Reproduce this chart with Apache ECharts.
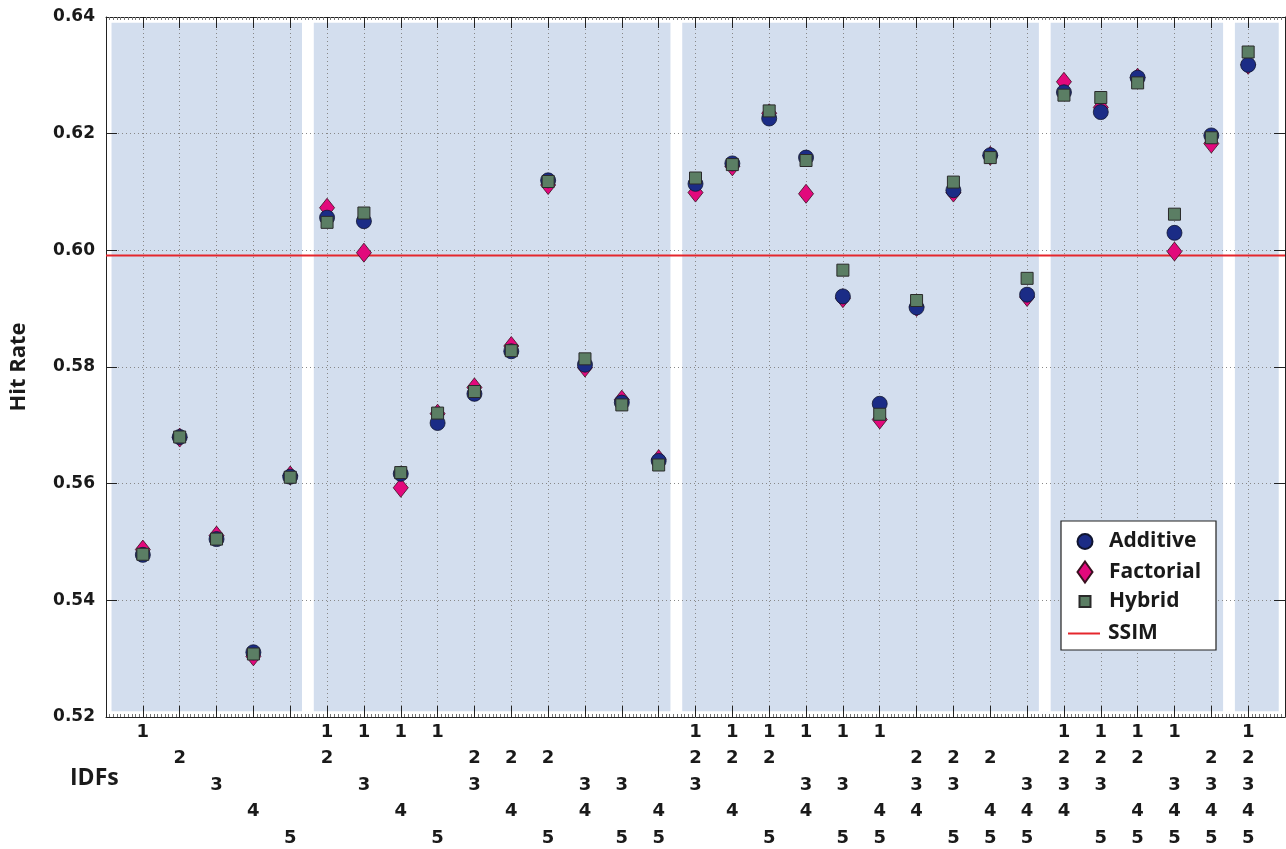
<!DOCTYPE html>
<html>
<head>
<meta charset="utf-8">
<script src="https://cdn.jsdelivr.net/npm/echarts@6/dist/echarts.min.js"></script>
<style>
  html, body { margin: 0; padding: 0; background: #fff; }
  #chart { width: 1286px; height: 849px; }
</style>
</head>
<body>
<div id="chart"></div>
<script>
// IDF combinations, one per tick
const idfSets = ['1', '2', '3', '4', '5',
  '12', '13', '14', '15', '23', '24', '25', '34', '35', '45',
  '123', '124', '125', '134', '135', '145', '234', '235', '245', '345',
  '1234', '1235', '1245', '1345', '2345', '12345'];

const additive = [0.5478, 0.5680, 0.5505, 0.5311, 0.5612,
  0.6056, 0.6050, 0.5617, 0.5704, 0.5754, 0.5827, 0.6120, 0.5804, 0.5739, 0.5639,
  0.6114, 0.6149, 0.6226, 0.6159, 0.5921, 0.5737, 0.5902, 0.6103, 0.6163, 0.5924,
  0.6271, 0.6237, 0.6296, 0.6030, 0.6197, 0.6318];

const factorial = [0.5487, 0.5679, 0.5511, 0.5304, 0.5614,
  0.6073, 0.5996, 0.5593, 0.5720, 0.5765, 0.5836, 0.6112, 0.5799, 0.5744, 0.5642,
  0.6099, 0.6144, 0.6235, 0.6097, 0.5918, 0.5710, 0.5903, 0.6099, 0.6162, 0.5920,
  0.6289, 0.6245, 0.6296, 0.5998, 0.6183, 0.6318];

const hybrid = [0.5479, 0.5680, 0.5505, 0.5308, 0.5611,
  0.6048, 0.6064, 0.5619, 0.5721, 0.5758, 0.5828, 0.6118, 0.5814, 0.5735, 0.5632,
  0.6124, 0.6147, 0.6239, 0.6154, 0.5966, 0.5719, 0.5914, 0.6117, 0.6159, 0.5952,
  0.6266, 0.6262, 0.6287, 0.6062, 0.6193, 0.6340];

const ssim = 0.5991;

// groups of ticks by number of IDFs (first, last)
const groupSpans = [[1, 5], [6, 15], [16, 25], [26, 30], [31, 31]];

const yMin = 0.52, yMax = 0.64, yStep = 0.02;
const xMin = 0, xMax = 32;

const FONT_TICK = 'DejaVu Sans';
const FONT_TEXT = 'Open Sans';
const INK = '#1a1a1a';

// shaded blocks behind each group
const shade = groupSpans.map((g, i) => [
  i === 0 ? xMin + 0.15 : g[0] - 0.36,
  i === groupSpans.length - 1 ? xMax - 0.17 : g[1] + 0.32,
  yMin + 0.001,
  yMax - 0.001
]);

const pts = (arr) => arr.map((v, i) => [i + 1, v]);

const xLabel = (v) => {
  if (v < 1 || v > idfSets.length) return '';
  const s = idfSets[v - 1];
  return ['1', '2', '3', '4', '5'].map(d => (s.includes(d) ? d : ' ')).join('\n');
};

// one legend per entry so each icon keeps its own size
const legendText = (pad) => ({
  fontFamily: FONT_TEXT, fontWeight: 'bold', fontSize: 21, color: INK,
  lineHeight: 20, padding: [0, 0, 0, pad]
});
const legendItem = (name, icon, w, h, cx, cy, textX) => ({
  data: [{ name: name, icon: icon }],
  left: cx - w / 2, top: cy - Math.max(h, 20) / 2,
  itemWidth: w, itemHeight: h, padding: 0, z: 20,
  textStyle: legendText(textX - (cx + w / 2) - 5)
});

const chart = echarts.init(document.getElementById('chart'));

const option = {
  animation: false,
  backgroundColor: '#fff',
  grid: { left: 106, right: 1, top: 17, bottom: 132, containLabel: false, outerBoundsMode: 'none' },
  xAxis: [{
    type: 'value', min: xMin, max: xMax, interval: 1,
    axisLine: { show: true, onZero: false, lineStyle: { color: '#222', width: 1 } },
    axisTick: { show: true, inside: true, length: 11, lineStyle: { color: '#222' } },
    minorTick: { show: true, splitNumber: 10, length: 3, lineStyle: { color: '#777' } },
    splitLine: { show: true, lineStyle: { color: '#888', type: [1, 3], width: 1 } },
    axisLabel: {
      formatter: xLabel, margin: 2, lineHeight: 26.5,
      fontFamily: FONT_TICK, fontWeight: 'bold', fontSize: 18, color: INK
    }
  }, {
    type: 'value', position: 'top', min: xMin, max: xMax, interval: 1,
    axisLine: { show: true, onZero: false, lineStyle: { color: '#222', width: 1 } },
    axisTick: { show: true, inside: true, length: 11, lineStyle: { color: '#222' } },
    minorTick: { show: true, splitNumber: 10, length: 3, lineStyle: { color: '#777' } },
    splitLine: { show: false },
    axisLabel: { show: false }
  }],
  yAxis: [{
    type: 'value', min: yMin, max: yMax, interval: yStep,
    name: 'Hit Rate', nameLocation: 'middle', nameGap: 76,
    nameTextStyle: { fontFamily: FONT_TEXT, fontWeight: 'bold', fontSize: 22, color: INK },
    axisLine: { show: true, onZero: false, lineStyle: { color: '#222', width: 1 } },
    axisTick: { show: true, inside: true, length: 11, lineStyle: { color: '#222' } },
    splitLine: { show: true, lineStyle: { color: '#888', type: [1, 3], width: 1 } },
    axisLabel: {
      formatter: (v) => v.toFixed(2), margin: 11,
      fontFamily: FONT_TICK, fontWeight: 'bold', fontSize: 17, color: INK
    }
  }, {
    type: 'value', position: 'right', min: yMin, max: yMax, interval: yStep,
    axisLine: { show: true, onZero: false, lineStyle: { color: '#222', width: 1 } },
    axisTick: { show: true, inside: true, length: 11, lineStyle: { color: '#222' } },
    splitLine: { show: false },
    axisLabel: { show: false }
  }],
  legend: [
    legendItem('Additive', 'circle', 15, 15, 1084, 541, 1108),
    legendItem('Factorial', 'diamond', 15, 21, 1084, 571, 1108),
    legendItem('Hybrid', 'rect', 11, 11, 1084, 601, 1108),
    legendItem('SSIM', 'rect', 32, 2, 1084, 633, 1108)
  ],
  graphic: [{
    type: 'rect', z: 10, silent: true,
    shape: { x: 1061, y: 521, width: 155, height: 129 },
    style: { fill: '#fff', stroke: '#222', lineWidth: 1.2 }
  }, {
    type: 'text', left: 70, top: 767,
    style: { text: 'IDFs', font: 'bold 23px "Open Sans"', fill: INK }
  }],
  series: [{
    type: 'custom', name: 'groups', z: -1, silent: true,
    xAxisIndex: 0, yAxisIndex: 0,
    data: shade,
    encode: { x: [0, 1], y: [2, 3] },
    renderItem: (params, api) => {
      const p0 = api.coord([api.value(0), api.value(3)]);
      const p1 = api.coord([api.value(1), api.value(2)]);
      return {
        type: 'rect',
        shape: { x: p0[0], y: p0[1], width: p1[0] - p0[0], height: p1[1] - p0[1] },
        style: { fill: '#d3deee' }
      };
    }
  }, {
    type: 'line', name: 'SSIM', z: 1,
    data: [[xMin, ssim], [xMax, ssim]],
    symbol: 'none',
    itemStyle: { color: '#e5262c' },
    lineStyle: { color: '#e5262c', width: 2 }
  }, {
    type: 'scatter', name: 'Factorial', z: 2,
    data: pts(factorial),
    symbol: 'diamond', symbolSize: [15, 19],
    itemStyle: { color: '#e2097c', opacity: 1, borderColor: '#3a1020', borderWidth: 0.8 }
  }, {
    type: 'scatter', name: 'Additive', z: 3,
    data: pts(additive),
    symbol: 'circle', symbolSize: 15,
    itemStyle: { color: '#1b2c86', opacity: 1, borderColor: '#101530', borderWidth: 0.8 }
  }, {
    type: 'scatter', name: 'Hybrid', z: 4,
    data: pts(hybrid),
    symbol: 'rect', symbolSize: 12,
    itemStyle: { color: '#5b7e64', opacity: 1, borderColor: '#2a2a2a', borderWidth: 1 }
  }]
};

chart.setOption(option);
</script>
</body>
</html>
